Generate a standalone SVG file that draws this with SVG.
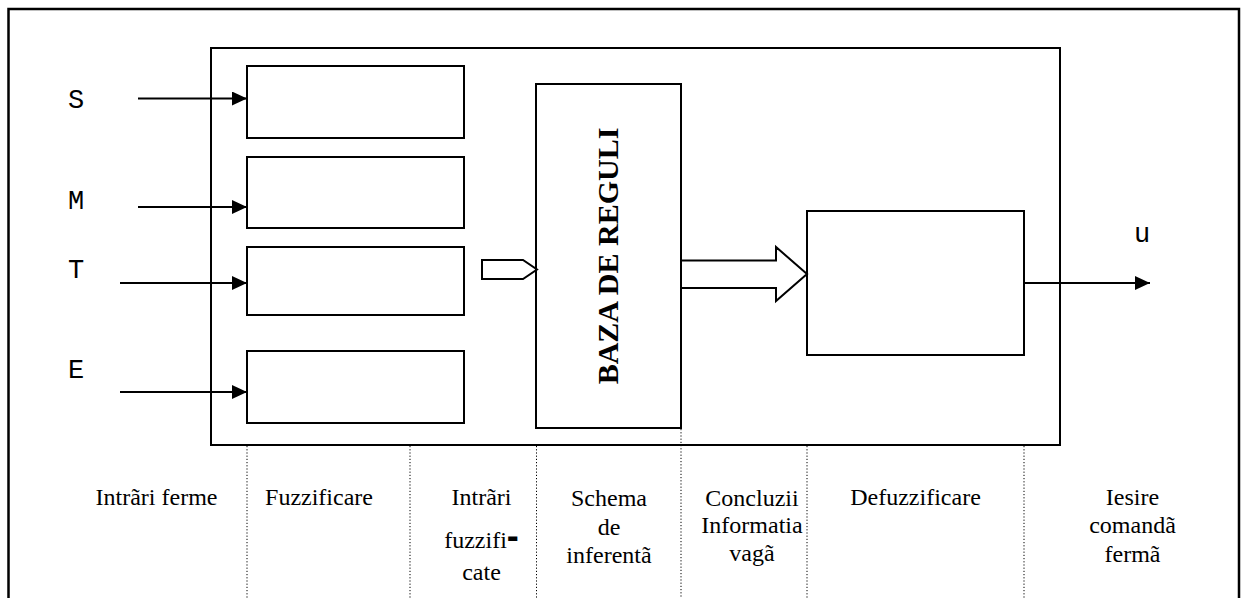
<svg xmlns="http://www.w3.org/2000/svg" width="1246" height="598" viewBox="0 0 1246 598">
<style>
.box{fill:#fff;stroke:#000;stroke-width:2}
.frame{fill:none;stroke:#000;stroke-width:2.5}
.ln{fill:none;stroke:#000;stroke-width:2}
.dot{fill:none;stroke:#000;stroke-width:1;stroke-dasharray:1.2 2}
.mono{font-family:"Liberation Mono","Courier New",monospace;font-size:27px;fill:#000;text-anchor:middle}
.lbl{font-family:"Liberation Serif","Times New Roman",serif;font-size:24px;fill:#000;text-anchor:middle}
.big{font-family:"Liberation Serif","Times New Roman",serif;font-size:30px;font-weight:bold;fill:#000;text-anchor:middle}
</style>
<defs>
<marker id="ah" markerWidth="15" markerHeight="14" refX="15" refY="7" orient="auto" markerUnits="userSpaceOnUse">
<path d="M0,0 L15,7 L0,14 Z" fill="#000"/>
</marker>
</defs>
<rect x="0" y="0" width="1246" height="598" fill="#fff"/>
<g id="frame">
<path class="frame" d="M8.5,600 V9 H1239 V600"/>
</g>
<g id="controller">
<rect class="box" x="211" y="48" width="849" height="397"/>
</g>
<g id="fuzz1"><rect class="box" x="247" y="66" width="217" height="72"/></g>
<g id="fuzz2"><rect class="box" x="247" y="157" width="217" height="71"/></g>
<g id="fuzz3"><rect class="box" x="247" y="247" width="217" height="68"/></g>
<g id="fuzz4"><rect class="box" x="247" y="351" width="217" height="72"/></g>
<g id="rulebase">
<rect class="box" x="536" y="84" width="145" height="344"/>
<text class="big" transform="translate(618,256) rotate(-90)">BAZA DE REGULI</text>
</g>
<g id="defuzz"><rect class="box" x="807" y="211" width="217" height="144"/></g>
<g id="inputs">
<text class="mono" x="76" y="108">S</text>
<text class="mono" x="76" y="209">M</text>
<text class="mono" x="76" y="278">T</text>
<text class="mono" x="76" y="378">E</text>
<text class="mono" x="1142" y="242">u</text>
</g>
<g id="connectors">
<line class="ln" x1="138" y1="98.5" x2="247" y2="98.5" marker-end="url(#ah)"/>
<line class="ln" x1="138" y1="207" x2="247" y2="207" marker-end="url(#ah)"/>
<line class="ln" x1="120" y1="283" x2="247" y2="283" marker-end="url(#ah)"/>
<line class="ln" x1="120" y1="392" x2="247" y2="392" marker-end="url(#ah)"/>
<line class="ln" x1="1024" y1="283" x2="1150" y2="283" marker-end="url(#ah)"/>
<path class="ln" d="M482,260 H523 L537,269.5 L523,279 H482 Z" fill="#fff"/>
<path class="ln" d="M681,260.5 H776 V247 L807,274 L776,301 V288 H681"/>
</g>
<g id="dividers">
<line class="dot" x1="247" y1="446" x2="247" y2="598"/>
<line class="dot" x1="410" y1="446" x2="410" y2="598"/>
<line class="dot" x1="536.5" y1="446" x2="536.5" y2="598"/>
<line class="dot" x1="681" y1="429" x2="681" y2="598"/>
<line class="dot" x1="807" y1="446" x2="807" y2="598"/>
<line class="dot" x1="1024" y1="446" x2="1024" y2="598"/>
</g>
<g id="stages">
<text class="lbl" x="156.5" y="505">Intrãri ferme</text>
<text class="lbl" x="319" y="505">Fuzzificare</text>
<text class="lbl" x="481.5" y="505">Intrãri</text>
<text class="lbl" x="481.5" y="548">fuzzifi<tspan font-weight="bold" font-family="Liberation Sans, Arial, sans-serif" font-size="36px">-</tspan></text>
<text class="lbl" x="481.5" y="580">cate</text>
<text class="lbl" x="609" y="506">Schema</text>
<text class="lbl" x="609" y="535">de</text>
<text class="lbl" x="609" y="563">inferentã</text>
<text class="lbl" x="752" y="506">Concluzii</text>
<text class="lbl" x="752" y="533">Informatia</text>
<text class="lbl" x="752" y="561">vagã</text>
<text class="lbl" x="915.5" y="505">Defuzzificare</text>
<text class="lbl" x="1132.5" y="505">Iesire</text>
<text class="lbl" x="1132.5" y="533">comandã</text>
<text class="lbl" x="1132.5" y="562">fermã</text>
</g>
</svg>
